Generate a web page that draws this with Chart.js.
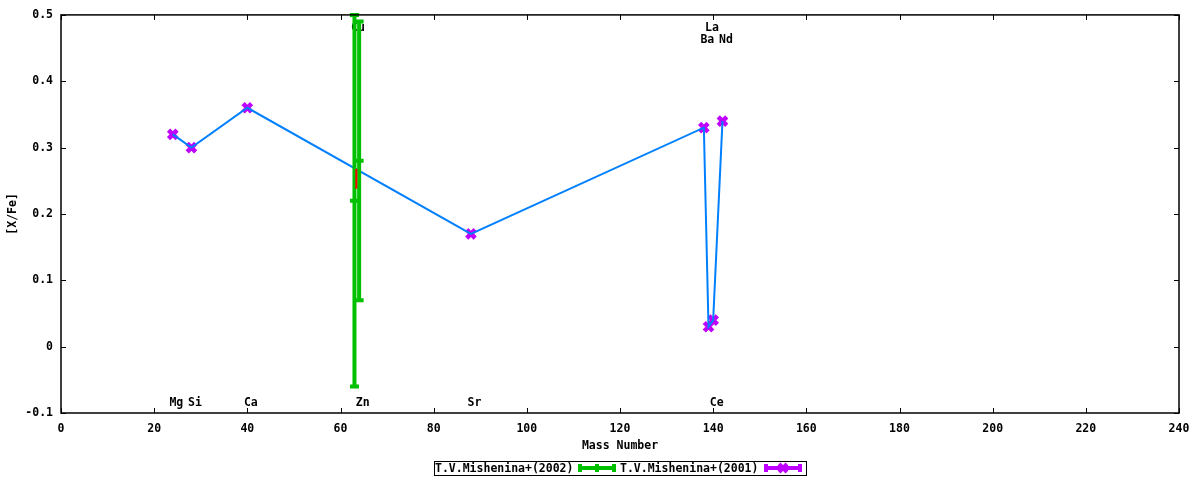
<!DOCTYPE html>
<html>
<head>
<meta charset="utf-8">
<script src="https://cdn.jsdelivr.net/npm/chart.js@4"></script>
<style>
  body { margin: 0; background: #fff; }
  canvas { display: block; }
</style>
</head>
<body>
<canvas id="massChart" width="1200" height="480"></canvas>
<script>
// T.V.Mishenina+(2001) - points joined by the blue line
const massA = [24, 28, 40, 88, 138, 139, 140, 142];
const valA = [0.32, 0.30, 0.36, 0.17, 0.33, 0.03, 0.04, 0.34];

// T.V.Mishenina+(2002) - value and error
const massB = [63, 64];
const valB = [0.22, 0.28];
const errB = [0.28, 0.21];

// short red bar near Cu
const massRed = [63.4];
const redLow = [0.238];
const redHigh = [0.268];

// element labels
const elemNames = ['Mg', 'Si', 'Ca', 'Cu', 'Zn', 'Sr', 'Ba', 'La', 'Ce', 'Nd'];
const elemMass = [24, 28, 40, 63, 64, 88, 138, 139, 140, 142];

const xTicks = [0, 20, 40, 60, 80, 100, 120, 140, 160, 180, 200, 220, 240];
const yTicks = [-0.1, 0, 0.1, 0.2, 0.3, 0.4, 0.5];
const legendNames = ['T.V.Mishenina+(2002)', 'T.V.Mishenina+(2001)'];

const GREEN = '#00c000';
const PURPLE = '#c000ff';
const BLUE = '#0080ff';
const FONT = 'bold 11.5px "DejaVu Sans Mono"';

// which row a label goes in: 0 = bottom, 1/2 = top rows
const labelRow = { Cu: 1, La: 1, Ba: 2, Nd: 2 };

function errBar(ctx, px, top, bot, mid, color) {
  ctx.strokeStyle = color;
  ctx.lineWidth = 4;
  ctx.beginPath();
  ctx.moveTo(px, top); ctx.lineTo(px, bot);
  [top, bot, mid].forEach(v => {
    ctx.moveTo(px - 4.5, v); ctx.lineTo(px + 4.5, v);
  });
  ctx.stroke();
}

function crossMark(ctx, px, py, color) {
  ctx.strokeStyle = color;
  ctx.lineWidth = 4;
  ctx.beginPath();
  ctx.moveTo(px - 4, py - 4); ctx.lineTo(px + 4, py + 4);
  ctx.moveTo(px + 4, py - 4); ctx.lineTo(px - 4, py + 4);
  ctx.stroke();
}

const gnuPlugin = {
  id: 'gnu',
  beforeDatasetsDraw(chart) {
    const { ctx, chartArea, scales: { x } } = chart;
    ctx.save();
    ctx.font = FONT;
    ctx.fillStyle = '#000';
    ctx.textAlign = 'center';
    ctx.textBaseline = 'middle';
    elemNames.forEach((n, i) => {
      const row = labelRow[n] || 0;
      const py = row === 0 ? chartArea.bottom - 9.5 : chartArea.top + 1 + 12 * row;
      ctx.fillText(n, x.getPixelForValue(elemMass[i]) + 3.5, py);
    });
    ctx.restore();
  },
  afterDatasetsDraw(chart) {
    const { ctx, chartArea, scales: { x, y } } = chart;
    ctx.save();
    ctx.beginPath();
    ctx.rect(chartArea.left, chartArea.top - 2, chartArea.width, chartArea.height + 2);
    ctx.clip();
    massB.forEach((m, i) => {
      const px = x.getPixelForValue(m);
      errBar(ctx, px, y.getPixelForValue(valB[i] + errB[i]),
        y.getPixelForValue(valB[i] - errB[i]), y.getPixelForValue(valB[i]), GREEN);
    });
    ctx.strokeStyle = '#ff0000';
    ctx.lineWidth = 2;
    massRed.forEach((m, i) => {
      const px = x.getPixelForValue(m);
      ctx.beginPath();
      ctx.moveTo(px, y.getPixelForValue(redHigh[i]));
      ctx.lineTo(px, y.getPixelForValue(redLow[i]));
      ctx.stroke();
    });
    ctx.restore();
  },
  afterDraw(chart) {
    const { ctx, chartArea: a, scales: { x, y } } = chart;
    ctx.save();
    // border
    ctx.strokeStyle = '#000';
    ctx.lineWidth = 1.5;
    ctx.strokeRect(a.left, a.top, a.width, a.height);
    // inward ticks on all four sides
    ctx.lineWidth = 1;
    ctx.beginPath();
    x.ticks.forEach(t => {
      const px = Math.round(x.getPixelForValue(t.value)) + 0.5;
      ctx.moveTo(px, a.bottom); ctx.lineTo(px, a.bottom - 5);
      ctx.moveTo(px, a.top); ctx.lineTo(px, a.top + 5);
    });
    y.ticks.forEach(t => {
      const py = Math.round(y.getPixelForValue(t.value)) + 0.5;
      ctx.moveTo(a.left, py); ctx.lineTo(a.left + 5, py);
      ctx.moveTo(a.right, py); ctx.lineTo(a.right - 5, py);
    });
    ctx.stroke();

    // axis titles
    ctx.font = FONT;
    ctx.fillStyle = '#000';
    ctx.textAlign = 'center';
    ctx.textBaseline = 'middle';
    ctx.fillText('Mass Number', (a.left + a.right) / 2, 446);
    ctx.save();
    ctx.translate(13, (a.top + a.bottom) / 2);
    ctx.rotate(-Math.PI / 2);
    ctx.fillText('[X/Fe]', 0, 0);
    ctx.restore();

    // legend
    ctx.lineWidth = 1;
    ctx.strokeStyle = '#000';
    ctx.strokeRect(434.5, 461.5, 372, 14);
    ctx.textAlign = 'left';
    ctx.fillText(legendNames[0], 435, 469);
    ctx.fillText(legendNames[1], 620, 469);
    // green sample
    ctx.strokeStyle = GREEN;
    ctx.lineWidth = 4;
    ctx.beginPath();
    ctx.moveTo(580, 468); ctx.lineTo(614, 468);
    [580, 597, 614].forEach(px => { ctx.moveTo(px, 464); ctx.lineTo(px, 472); });
    ctx.stroke();
    // purple sample
    ctx.strokeStyle = PURPLE;
    ctx.beginPath();
    ctx.moveTo(766, 468); ctx.lineTo(800, 468);
    [766, 800].forEach(px => { ctx.moveTo(px, 464); ctx.lineTo(px, 472); });
    ctx.stroke();
    crossMark(ctx, 783, 468, PURPLE);
    ctx.restore();
  }
};

const ctx = document.getElementById('massChart').getContext('2d');

const massChart = new Chart(ctx, {
  type: 'scatter',
  data: {
    datasets: [{
      label: 'line',
      data: massA.map((m, i) => ({ x: m, y: valA[i] })),
      showLine: true,
      borderColor: BLUE,
      borderWidth: 2,
      pointRadius: 0,
      tension: 0
    }, {
      label: legendNames[1],
      data: massA.map((m, i) => ({ x: m, y: valA[i] })),
      pointStyle: 'crossRot',
      pointRadius: 6,
      borderWidth: 4.5,
      borderColor: PURPLE,
      backgroundColor: PURPLE
    }, {
      label: legendNames[0],
      data: massB.map((m, i) => ({ x: m, y: valB[i] })),
      pointRadius: 0,
      borderColor: GREEN
    }]
  },
  options: {
    responsive: false,
    animation: false,
    devicePixelRatio: 1,
    layout: { padding: { top: 13, right: 21, left: 0, bottom: 0 } },
    plugins: {
      legend: { display: false },
      tooltip: { enabled: false }
    },
    scales: {
      x: {
        type: 'linear',
        min: 0,
        max: 240,
        afterBuildTicks: s => { s.ticks = xTicks.map(v => ({ value: v })); },
        afterFit: s => { s.height = 67; },
        grid: { display: false, drawTicks: false },
        border: { display: false },
        ticks: {
          padding: 9,
          color: '#000',
          font: { family: 'DejaVu Sans Mono', size: 11.5, weight: 'bold' },
          maxRotation: 0,
          callback: v => String(v)
        }
      },
      y: {
        type: 'linear',
        min: -0.1,
        max: 0.5,
        afterBuildTicks: s => { s.ticks = yTicks.map(v => ({ value: v })); },
        afterFit: s => { s.width = 61; },
        grid: { display: false, drawTicks: false },
        border: { display: false },
        ticks: {
          padding: 8,
          color: '#000',
          font: { family: 'DejaVu Sans Mono', size: 11.5, weight: 'bold' },
          callback: v => (Math.abs(v) < 1e-9 ? '0' : v.toFixed(1))
        }
      }
    }
  },
  plugins: [gnuPlugin]
});
</script>
</body>
</html>
